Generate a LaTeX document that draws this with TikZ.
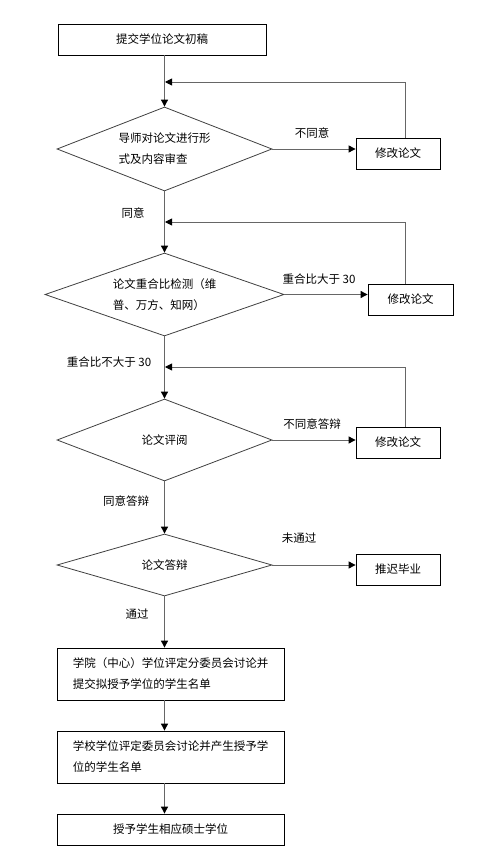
\documentclass[tikz,border=0pt]{standalone}
\usepackage{fontspec}
\newfontfamily\cjk{Noto Sans CJK SC}
\usetikzlibrary{shapes.geometric,arrows.meta}

\begin{document}
\begin{tikzpicture}[x=1pt,y=-1pt,
	font=\cjk\fontsize{11.5}{21}\selectfont,
	box/.style={draw=black, line width=0.8pt, rectangle, inner sep=0pt},
	test/.style={draw=black!75, line width=0.8pt, diamond, aspect=2.5, inner sep=0pt, align=left},
	flow/.style={draw=black!60, line width=0.9pt, -{Triangle[length=7pt,width=7pt,color=black]}},
	lab/.style={inner sep=0pt}]
		\useasboundingbox (0,0) rectangle (499,858);
		\node[box, minimum width=208pt, minimum height=31pt] (draft) at (162,39.5) {提交学位论文初稿};
		\node[test, minimum width=215pt, minimum height=84pt] (review) at (164.5,149) {导师对论文进行形\\式及内容审查};
		\node[box, minimum width=84pt, minimum height=31pt] (fixa) at (398,153.5) {修改论文};
		\node[test, minimum width=239pt, minimum height=83pt] (check) at (164.5,294.5) {论文重合比检测（维\\普、万方、知网）};
		\node[box, minimum width=85pt, minimum height=31pt] (fixb) at (410.5,299.5) {修改论文};
		\node[test, minimum width=215pt, minimum height=82pt] (assess) at (164.5,440) {论文评阅};
		\node[box, minimum width=84pt, minimum height=31pt] (fixc) at (398,442.5) {修改论文};
		\node[test, minimum width=215pt, minimum height=62pt] (defense) at (164.5,565) {论文答辩};
		\node[box, minimum width=84pt, minimum height=31pt] (delay) at (398,569.5) {推迟毕业};
		\node[box, minimum width=227pt, minimum height=52pt, align=left] (college) at (170.5,674) {学院（中心）学位评定分委员会讨论并\\提交拟授予学位的学生名单};
		\node[box, minimum width=227pt, minimum height=52pt, align=left] (school) at (170.5,757) {学校学位评定委员会讨论并产生授予学\\位的学生名单};
		\node[box, minimum width=227pt, minimum height=31pt] (award) at (170.5,829.5) {授予学生相应硕士学位};
		\coordinate (ra) at (405,82);
		\coordinate (ma) at (165,82);
		\coordinate (rb) at (405,222);
		\coordinate (mb) at (165,222);
		\coordinate (rc) at (405,367);
		\coordinate (mc) at (165,367);
		\draw[flow] (draft.south -| review.north) -- (review.north);
		\draw[flow] (review.east) -- (review.east -| fixa.west);
		\draw[flow] (fixa.north -| ra) -- (ra) -- (ma);
		\draw[flow] (review.south) -- (check.north);
		\draw[flow] (check.east) -- (check.east -| fixb.west);
		\draw[flow] (fixb.north -| rb) -- (rb) -- (mb);
		\draw[flow] (check.south) -- (assess.north);
		\draw[flow] (assess.east) -- (assess.east -| fixc.west);
		\draw[flow] (fixc.north -| rc) -- (rc) -- (mc);
		\draw[flow] (assess.south) -- (defense.north);
		\draw[flow] (defense.east) -- (defense.east -| delay.west);
		\draw[flow] (defense.south) -- (defense.south |- college.north);
		\draw[flow] (college.south -| defense.south) -- (school.north -| defense.south);
		\draw[flow] (school.south -| defense.south) -- (award.north -| defense.south);
		\node[lab] (disagree) at (312,133) {不同意};
		\node[lab] (agree) at (133,213) {同意};
		\node[lab] (high) at (319,279) {重合比大于 30};
		\node[lab] (low) at (109,362) {重合比不大于 30};
		\node[lab] (refuse) at (312,424) {不同意答辩};
		\node[lab] (accept) at (126,501) {同意答辩};
		\node[lab] (fail) at (299,538) {未通过};
		\node[lab] (pass) at (137,614) {通过};
\end{tikzpicture}
\end{document}
